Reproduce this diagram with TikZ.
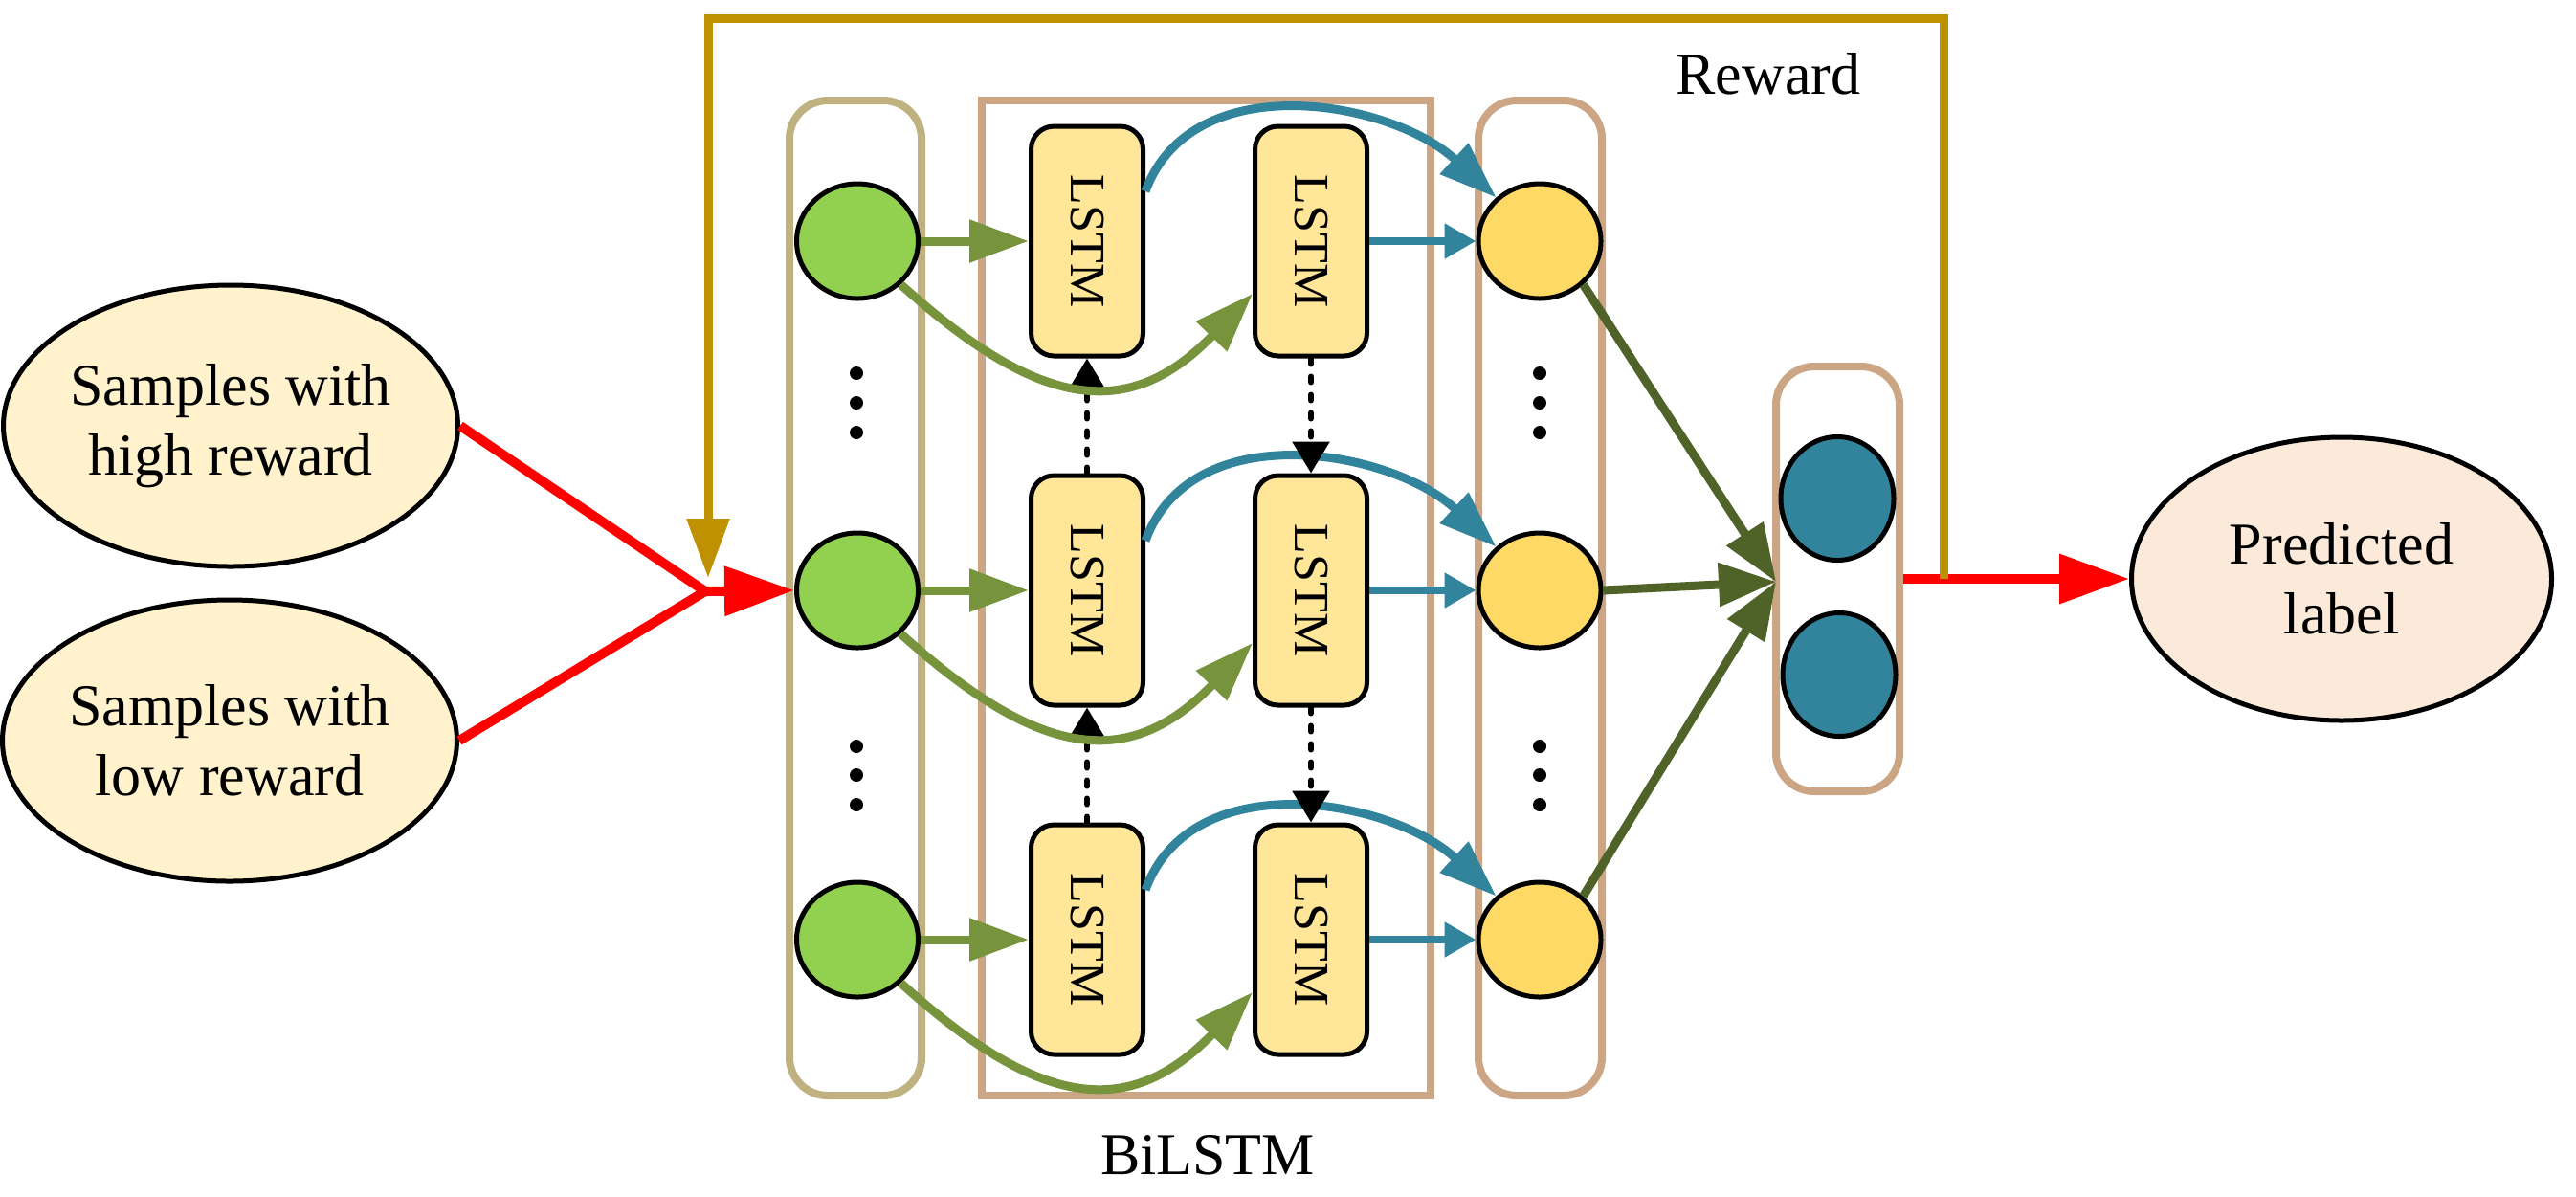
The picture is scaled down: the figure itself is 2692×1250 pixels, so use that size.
\documentclass[tikz,border=0pt]{standalone}
\usepackage{fontspec}
\usepackage{graphicx}
\setmainfont{Liberation Serif}
\usetikzlibrary{shapes.geometric,arrows.meta,calc}
\definecolor{incolc}{HTML}{BFB280}
\definecolor{bicolc}{HTML}{CCA684}
\definecolor{greenc}{HTML}{92D050}
\definecolor{yellowc}{HTML}{FFD966}
\definecolor{lstmc}{HTML}{FFE699}
\definecolor{tealc}{HTML}{31849B}
\definecolor{olivec}{HTML}{77933C}
\definecolor{dgreenc}{HTML}{4F6228}
\definecolor{fbc}{HTML}{BF9000}
\definecolor{samplec}{HTML}{FFF2CC}
\definecolor{predc}{HTML}{FBE9DA}
\begin{document}
\begin{tikzpicture}[x=0.5pt,y=-0.5pt,
  txt/.style={font=\fontsize{31}{36.6}\selectfont, align=center},
  colbox/.style={draw=#1, line width=4pt, rounded corners=20pt, inner sep=0pt},
  gnode/.style={ellipse, draw, line width=2.5pt, fill=greenc, minimum width=63.5pt, minimum height=60pt, inner sep=0pt},
  ynode/.style={ellipse, draw, line width=2.5pt, fill=yellowc, minimum width=64pt, minimum height=60pt, inner sep=0pt},
  tnode/.style={ellipse, draw, line width=2.5pt, fill=tealc, minimum width=59pt, minimum height=64.5pt, inner sep=0pt},
  lstmbox/.style={draw, line width=2.5pt, fill=lstmc, rounded corners=12pt, minimum width=58.5pt, minimum height=120pt, inner sep=0pt, font=\fontsize{26}{31}\selectfont},
  dotn/.style={ellipse, fill=black, minimum width=7pt, minimum height=7pt, inner sep=0pt},
  bigell/.style={ellipse, draw, line width=2.5pt, inner sep=0pt, txt},
  redl/.style={draw=red, line width=5pt},
  olivearr/.style={draw=olivec, line width=4.5pt, -{Triangle[length=31pt,width=21.5pt]}},
  tealarr/.style={draw=tealc, line width=4.2pt, -{Triangle[length=16.5pt,width=17.5pt]}},
  tealcurve/.style={draw=tealc, line width=4.5pt, -{Triangle[length=30pt,width=21pt]}},
  dgarr/.style={draw=dgreenc, line width=4.5pt, -{Triangle[length=30pt,width=22pt]}},
  dasharr/.style={draw=black, line width=3pt, line cap=round, dash pattern=on 3pt off 6.5pt, -{Triangle[length=16.5pt,width=19pt]}}
]
\useasboundingbox (0,0) rectangle (2692,1250);

% column frames
\node[colbox=incolc, minimum width=69pt, minimum height=520pt] (incol) at (894,625) {};
\node[draw=bicolc, line width=4pt, inner sep=0pt, minimum width=234.5pt, minimum height=520pt] (bilstm) at (1260.5,625) {};
\node[colbox=bicolc, minimum width=64.5pt, minimum height=520pt] (outcol) at (1609.5,625) {};
\node[colbox=bicolc, minimum width=64.5pt, minimum height=222pt] (fccol) at (1920.5,605) {};

% input ellipses
\node[bigell, fill=samplec, minimum width=219pt, minimum height=147pt] (s1) at (241,445) {Samples with\\high reward};
\node[bigell, fill=samplec, minimum width=219pt, minimum height=147pt] (s2) at (240,774) {Samples with\\low reward};
\node[bigell, fill=predc, minimum width=219.5pt, minimum height=148pt] (pred) at (2447,605) {Predicted\\label};

% green input nodes
\node[gnode] (g1) at (896,252) {};
\node[gnode] (g2) at (896,617) {};
\node[gnode] (g3) at (896,982) {};
% yellow output nodes
\node[ynode] (y1) at (1609,252) {};
\node[ynode] (y2) at (1609,617) {};
\node[ynode] (y3) at (1609,982) {};
% teal nodes
\node[tnode] (t1) at (1920,521) {};
\node[tnode] (t2) at (1922,705) {};

% LSTM boxes
\node[lstmbox] (L1a) at (1136,252) {\rotatebox{-90}{LSTM}};
\node[lstmbox] (L1b) at (1370,252) {\rotatebox{-90}{LSTM}};
\node[lstmbox] (L2a) at (1136,617) {\rotatebox{-90}{LSTM}};
\node[lstmbox] (L2b) at (1370,617) {\rotatebox{-90}{LSTM}};
\node[lstmbox] (L3a) at (1136,982) {\rotatebox{-90}{LSTM}};
\node[lstmbox] (L3b) at (1370,982) {\rotatebox{-90}{LSTM}};

% dots
\foreach \xx/\nm in {895/da,1609/db}{
  \node[dotn] (\nm1) at (\xx,390) {};
  \node[dotn] (\nm2) at (\xx,421) {};
  \node[dotn] (\nm3) at (\xx,452) {};
  \node[dotn] (\nm4) at (\xx,780) {};
  \node[dotn] (\nm5) at (\xx,810) {};
  \node[dotn] (\nm6) at (\xx,841) {};
}

% labels
\node[txt] (rewardlbl) at (1848,77) {Reward};
\node[txt] (bilstmlbl) at (1262,1207) {BiLSTM};

% red input lines
\coordinate (junc) at (737,618);
\draw[redl, line join=miter] (s1.east) -- (junc) -- (s2.east);
\draw[redl, -{Triangle[length=36.5pt,width=25pt]}] (junc) -- (g2.west);

% dashed backward connections (column a, under olive)
\draw[dasharr] (L2a.north) -- (L1a.south);
\draw[dasharr] (L3a.north) -- (L2a.south);

% olive arrows
\foreach \r in {1,2,3}{
  \draw[olivearr] (g\r.east) -- (L\r a.west);
  \draw[olivearr] (g\r.-45) .. controls +(141,127) and +(-132,137) .. ($(L\r b.west)+(0,55)$);
}

% teal arrows
\foreach \r in {1,2,3}{
  \draw[tealarr] (L\r b.east) -- (y\r.west);
  \draw[tealcurve] ($(L\r a.east)+(0,-52)$) .. controls +(48,-132) and +(-110,-102) .. (y\r.135);
}

% dashed forward connections (column b, over teal)
\draw[dasharr] (L1b.south) -- (L2b.north);
\draw[dasharr] (L2b.south) -- (L3b.north);

% dark green to output
\coordinate (conv) at (1856,608);
\draw[dgarr] (y1.-45) -- (conv);
\draw[dgarr] (y2.east) -- (conv);
\draw[dgarr] (y3.45) -- (conv);

% output red arrow
\draw[redl, -{Triangle[length=36.5pt,width=25pt]}] (fccol.east) -- (pred.west);

% reward feedback
\coordinate (fbstart) at (2031,605);
\coordinate (fbA) at (2031,19);
\coordinate (fbB) at (740,19);
\coordinate (fbtip) at (740,604);
\draw[draw=fbc, line width=4.5pt, line join=miter, -{Triangle[length=31pt,width=21.5pt]}] (fbstart) -- (fbA) -- (fbB) -- (fbtip);
\end{tikzpicture}
\end{document}
